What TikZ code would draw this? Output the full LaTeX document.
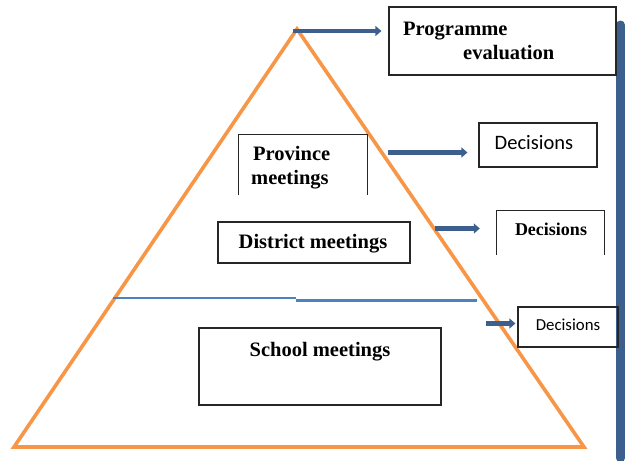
\documentclass[tikz,border=0pt]{standalone}
\usepackage{fontspec}
\setmainfont{Liberation Serif}
\newfontfamily\sansf{Carlito}
\usetikzlibrary{arrows.meta}
\definecolor{pyr}{HTML}{F79646}
\definecolor{arr}{HTML}{3C5F8E}
\definecolor{sep}{HTML}{4F81BD}
\tikzset{
  box/.style={draw=black!85, line width=1.2pt, rectangle, inner sep=0pt},
  openbox/.style={rectangle, inner sep=0pt},
  lbl/.style={font=\fontsize{20.5}{24}\selectfont\bfseries, inner sep=0pt, anchor=base west},
  blarrow/.style={draw=arr, line width=4.5pt, -{Triangle[length=6pt,width=10pt]}},
}
\begin{document}
\begin{tikzpicture}[x=1pt,y=-1pt]
\useasboundingbox (0,0) rectangle (625,461);
% pyramid
\coordinate (apex) at (297,29);
\coordinate (bl) at (14,447);
\coordinate (br) at (584,447);
\draw[pyr, line width=3.6pt, line join=miter] (apex) -- (br) -- (bl) -- cycle;
% separator line
\coordinate (s1) at (113,298);
\coordinate (s2) at (296,298);
\coordinate (s3) at (296,300.5);
\coordinate (s4) at (477,300.5);
\draw[sep, line width=1.4pt] (s1) -- (s2);
\draw[sep, line width=2.4pt] (s3) -- (s4);
% vertical bar
\coordinate (v1) at (620.5,25);
\coordinate (v2) at (620.5,458);
\draw[arr, line width=9pt, line cap=round] (v1) -- (v2);
% boxes
\node[box, minimum width=227pt, minimum height=68pt] (prog) at (502.5,41) {};
\node[lbl] (progt1) at (403,35) {Programme};
\node[lbl] (progt2) at (463,59) {evaluation};

\node[openbox, minimum width=128pt, minimum height=60pt] (prov) at (303,165) {};
\draw[black!85, line width=1.2pt] (prov.south west) -- (prov.north west) -- (prov.north east) -- (prov.south east);
\node[lbl] (provt1) at (253,160.5) {Province};
\node[lbl] (provt2) at (251,184.5) {meetings};

\node[box, minimum width=192pt, minimum height=41pt] (dist) at (314,242.5) {};
\node[lbl, anchor=base] (distt) at (313,248) {District meetings};

\node[box, minimum width=242pt, minimum height=77pt] (school) at (320,366.5) {};
\node[lbl, anchor=base] (schoolt) at (320,356) {School meetings};

\node[box, minimum width=118pt, minimum height=44pt] (dec1) at (538,145) {};
\node[font=\sansf\fontsize{20.5}{24}\selectfont, inner sep=0pt, anchor=base] (dec1t) at (534,149) {Decisions};

\node[openbox, minimum width=107pt, minimum height=44pt] (dec2) at (550.5,233) {};
\draw[black!85, line width=1.2pt] (dec2.south west) -- (dec2.north west) -- (dec2.north east) -- (dec2.south east);
\node[font=\fontsize{18}{21}\selectfont\bfseries, inner sep=0pt, anchor=base] (dec2t) at (551,235) {Decisions};

\node[box, minimum width=100pt, minimum height=40pt] (dec3) at (568,327) {};
\node[font=\sansf\fontsize{16.8}{20}\selectfont, inner sep=0pt, anchor=base] (dec3t) at (568,330) {Decisions};
% arrows
\coordinate (a1) at (293,31);
\coordinate (a1e) at (prog.west |- a1);
\draw[blarrow] (a1) -- ([xshift=-7pt]a1e);
\coordinate (a2) at (388,152.5);
\coordinate (a2e) at (dec1.west |- a2);
\draw[blarrow] (a2) -- ([xshift=-11pt]a2e);
\coordinate (a3) at (435,228.5);
\coordinate (a3e) at (dec2.west |- a3);
\draw[blarrow] (a3) -- ([xshift=-17pt]a3e);
\coordinate (a4) at (486,323.5);
\coordinate (a4e) at (dec3.west |- a4);
\draw[blarrow] (a4) -- ([xshift=-2pt]a4e);
\end{tikzpicture}
\end{document}
